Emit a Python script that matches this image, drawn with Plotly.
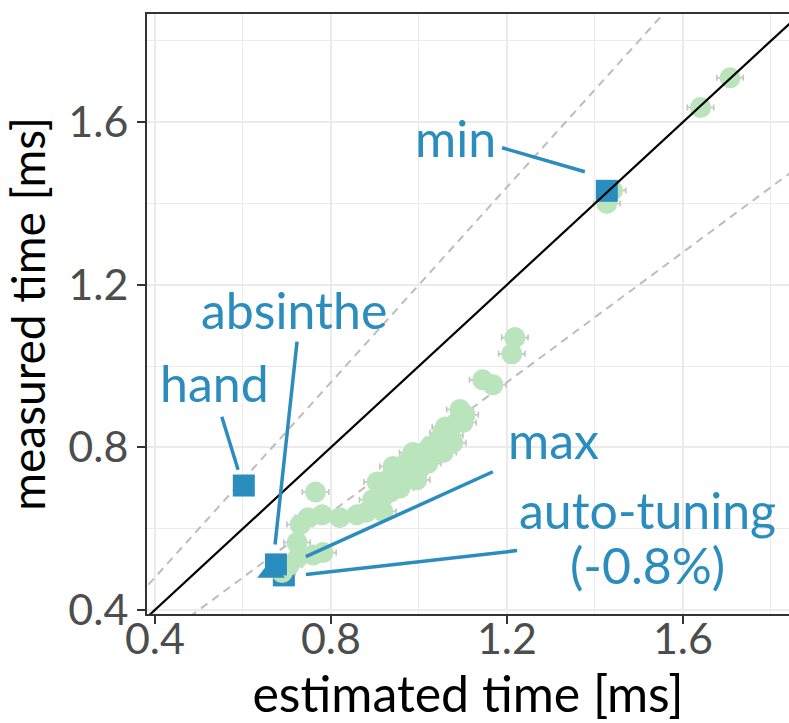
import plotly.graph_objects as go

# ---- data ----
est_time = [0.689, 0.705, 0.725, 0.760, 0.782, 0.723, 0.730, 0.748, 0.780, 0.820,
            0.859, 0.765, 0.880, 0.895, 0.918, 0.895, 0.905, 0.930, 0.920, 0.941,
            0.957, 0.960, 0.975, 0.986, 0.995, 0.990, 1.005, 1.015, 1.025, 1.035,
            1.045, 1.055, 1.055, 1.065, 1.077, 1.085, 1.093, 1.100, 1.105, 1.145,
            1.168, 1.211, 1.218, 1.427, 1.440, 1.640, 1.707, 0.935, 0.970, 1.000,
            1.020, 1.040, 1.060, 1.070]
meas_time = [0.492, 0.510, 0.529, 0.535, 0.541, 0.566, 0.610, 0.627, 0.634, 0.627,
             0.634, 0.690, 0.640, 0.652, 0.642, 0.671, 0.715, 0.720, 0.680, 0.753,
             0.700, 0.740, 0.730, 0.787, 0.720, 0.760, 0.770, 0.790, 0.802, 0.785,
             0.820, 0.836, 0.787, 0.810, 0.811, 0.860, 0.893, 0.861, 0.880, 0.966,
             0.954, 1.030, 1.070, 1.400, 1.432, 1.636, 1.709, 0.690, 0.760, 0.745,
             0.760, 0.810, 0.850, 0.830]
err_est = 0.03

special_names = ["auto-tuning", "max", "absinthe", "hand", "min"]
special_x = [0.693, 0.664, 0.675, 0.602, 1.427]
special_y = [0.485, 0.494, 0.512, 0.706, 1.431]
special_symbols = ["square", "triangle-up", "square", "square", "square"]

ratio_lines = [0.8, 1.2]

label_text = ["min", "absinthe", "hand", "max", "auto-tuning", "(-0.8%)"]
label_x = [1.084, 0.715, 0.535, 1.306, 1.519, 1.520]
label_y = [1.560, 1.137, 0.958, 0.818, 0.646, 0.510]
leader_from_x = [1.189, 0.723, 0.552, 1.168, 1.223]
leader_from_y = [1.537, 1.060, 0.875, 0.740, 0.546]
leader_to_x = [1.377, 0.673, 0.589, 0.743, 0.743]
leader_to_y = [1.478, 0.561, 0.745, 0.531, 0.487]

x_ticks = [0.4, 0.8, 1.2, 1.6]
x_ticklabels = ["0.4", "0.8", "1.2", "1.6"]
y_ticks = [0.4, 0.8, 1.2, 1.6]
y_ticklabels = ["0.4", "0.8", "1.2", "1.6"]

X_RANGE = [0.382, 1.841]
Y_RANGE = [0.390, 1.866]

BLUE = "#2b8cbe"
GREEN = "#bae4bc"
FONT = "Lato"

fig = go.Figure()

line_ext = [0.3, 2.0]
for r in ratio_lines:
    fig.add_trace(go.Scatter(x=line_ext, y=[v * r for v in line_ext], mode="lines",
                             line=dict(color="#bdbdbd", width=2, dash="8px,6px"),
                             hoverinfo="skip", showlegend=False))

# special point drawn under the cloud
fig.add_trace(go.Scatter(x=special_x[:1], y=special_y[:1], mode="markers",
                         marker=dict(symbol=special_symbols[0], size=22, color=BLUE, opacity=1),
                         showlegend=False))

# error bars (gray) behind the points
fig.add_trace(go.Scatter(x=est_time, y=meas_time, mode="markers",
                         marker=dict(size=1, color="rgba(0,0,0,0)"),
                         error_x=dict(type="constant", value=err_est, color="#c4c4c4",
                                      thickness=1.6, width=3),
                         hoverinfo="skip", showlegend=False))
fig.add_trace(go.Scatter(x=est_time, y=meas_time, mode="markers",
                         marker=dict(symbol="circle", size=21, color=GREEN, opacity=1,
                                     line=dict(width=0)),
                         showlegend=False))

fig.add_trace(go.Scatter(x=special_x[1:], y=special_y[1:], mode="markers",
                         marker=dict(symbol=special_symbols[1:], size=[24, 22, 22, 22], color=BLUE,
                                     opacity=1, line=dict(width=0)),
                         showlegend=False))

fig.add_trace(go.Scatter(x=line_ext, y=line_ext, mode="lines",
                         line=dict(color="black", width=2.2),
                         hoverinfo="skip", showlegend=False))

for fx, fy, tx, ty in zip(leader_from_x, leader_from_y, leader_to_x, leader_to_y):
    fig.add_trace(go.Scatter(x=[fx, tx], y=[fy, ty], mode="lines",
                             line=dict(color=BLUE, width=3.5),
                             hoverinfo="skip", showlegend=False))

for t, lx, ly in zip(label_text, label_x, label_y):
    fig.add_annotation(x=lx, y=ly, text=t, showarrow=False, xref="x", yref="y",
                       font=dict(family=FONT, size=50, color=BLUE), align="center")

axis_common = dict(
    showline=True, linecolor="#333333", linewidth=2,
    ticks="outside", ticklen=8, tickwidth=2, tickcolor="#333333",
    showgrid=True, gridcolor="#ebebeb", gridwidth=2,
    zeroline=False,
    tickfont=dict(family=FONT, size=43, color="#4d4d4d"),
    minor=dict(tick0=0.2, dtick=0.4, showgrid=True, gridcolor="#ebebeb", gridwidth=1, ticks=""),
)

fig.update_xaxes(range=X_RANGE, tickvals=x_ticks, ticktext=x_ticklabels, mirror=True,
                 ticklabelstandoff=-22,
                 title=dict(text="estimated time [ms]", font=dict(family=FONT, size=50, color="black"),
                            standoff=0),
                 **axis_common)
fig.update_yaxes(range=Y_RANGE, tickvals=y_ticks, ticktext=y_ticklabels,
                 title=dict(text="measured time [ms]", font=dict(family=FONT, size=46, color="black"),
                            standoff=16),
                 **axis_common)

fig.update_layout(width=789, height=723, margin=dict(l=147, r=0, t=14, b=109, autoexpand=False),
                  plot_bgcolor="white", paper_bgcolor="white", showlegend=False)

fig.write_html("out.html", config={"displayModeBar": False},
               post_script="document.body.style.margin='0px';")
